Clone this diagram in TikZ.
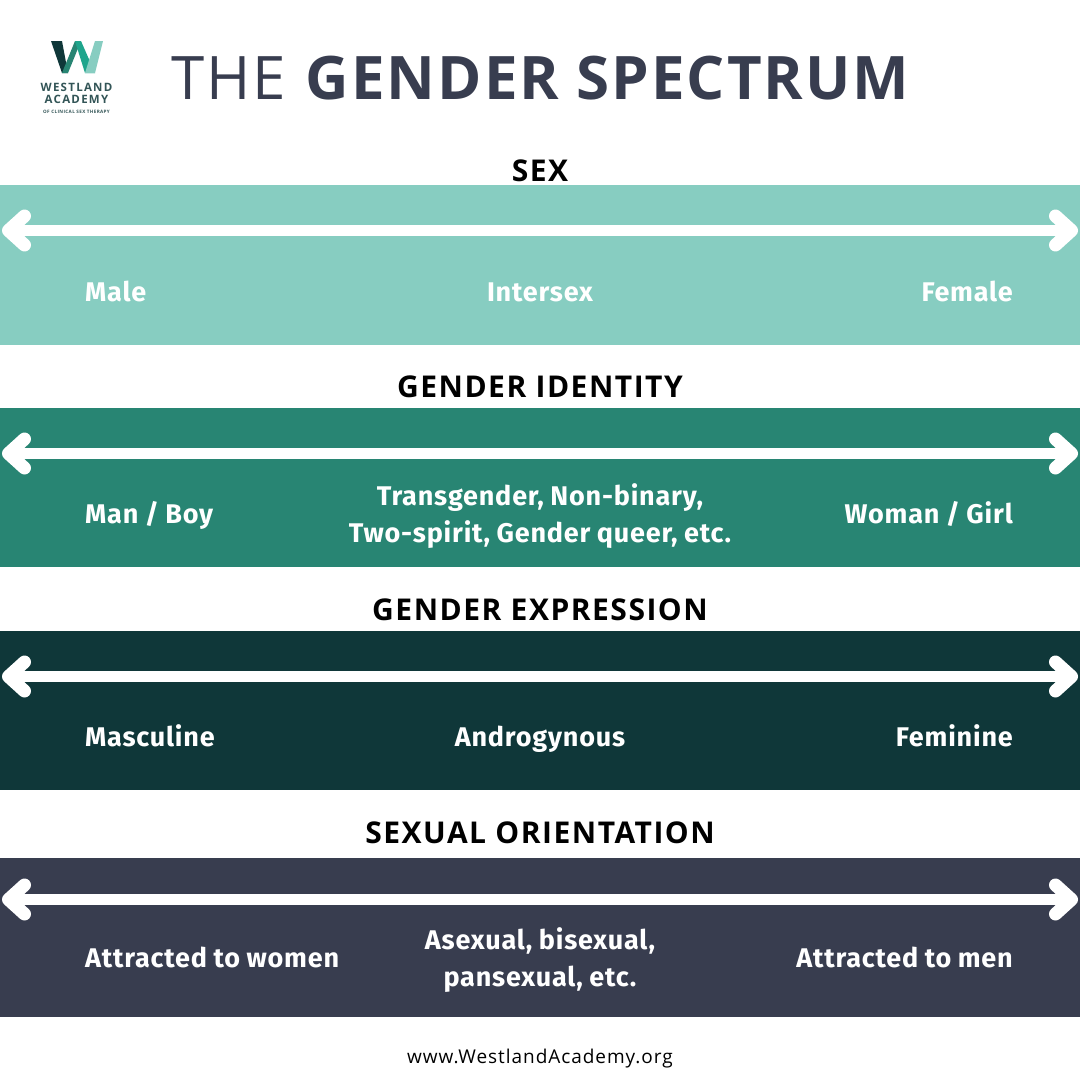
\documentclass[tikz,border=0pt]{standalone}
\usepackage{fontspec}
\setmainfont{Open Sans}
\newfontfamily\labelfont[LetterSpace=3,WordSpace=0.9]{Fira Sans}
\usetikzlibrary{arrows.meta, positioning}
\definecolor{bandA}{HTML}{87CDC1}
\definecolor{bandB}{HTML}{288573}
\definecolor{bandC}{HTML}{0F3739}
\definecolor{bandD}{HTML}{383D4F}
\definecolor{logoT}{HTML}{1FA58C}
\tikzset{
  band/.style={minimum width=1080pt,minimum height=#1,inner sep=0pt,anchor=north west},
  spectrum/.style={line width=10.5pt,white,line join=round,
    {Straight Barb[length=16pt,width=29pt,line width=13pt,round]}-{Straight Barb[length=16pt,width=29pt,line width=13pt,round]}},
  heading/.style={font=\fontsize{30}{30}\selectfont\bfseries\addfontfeature{LetterSpace=5},anchor=base,black},
  lab/.style={font=\labelfont\fontsize{27}{37}\selectfont\bfseries,white,anchor=base,align=center,inner sep=0pt},
  logotext/.style 2 args={bandC!85,inner sep=0pt,font=\fontsize{#1}{#1}\selectfont\bfseries\addfontfeature{LetterSpace=#2}},
}
\begin{document}
\begin{tikzpicture}[x=1pt,y=-1pt]
\useasboundingbox (0,0) rectangle (1080,1080);
\fill[white] (0,0) rectangle (1080,1080);
% logo
\fill[bandC] (51,41) -- (62,41) -- (68,73) -- (62,73) -- cycle;
\fill[bandB] (62,73) -- (75,41) -- (81,41) -- (68,73) -- cycle;
\fill[logoT] (75,41) -- (81,41) -- (95,73) -- (85,73) -- cycle;
\fill[bandA] (85,73) -- (95,41) -- (103,41) -- (95,73) -- cycle;
\node (logoA) at (76.5,87) [logotext={11.5}{11}] {WESTLAND};
\node (logoB) at (76.5,99) [logotext={11.5}{11}] {ACADEMY};
\node (logoC) at (76.5,112) [logotext={4.6}{8}] {OF CLINICAL SEX THERAPY};
% title
\node (title) at (541.5,99) [anchor=base,inner sep=0pt,bandD,font=\fontsize{60}{60}\selectfont\addfontfeature{LetterSpace=3.3}] {THE \textbf{GENDER SPECTRUM}};
% bands
\node (sexband) at (0,185) [band=160pt,fill=bandA] {};
\node (idband) at (0,408) [band=159pt,fill=bandB] {};
\node (exband) at (0,631) [band=159pt,fill=bandC] {};
\node (orband) at (0,858) [band=159pt,fill=bandD] {};
% headings
\node (sex) at (540,181) [heading] {SEX};
\node (id) at (540,397) [heading] {GENDER IDENTITY};
\node (ex) at (540,620) [heading] {GENDER EXPRESSION};
\node (or) at (540,843) [heading] {SEXUAL ORIENTATION};
% arrows
\foreach \n/\y in {sexa/230.5,ida/453.5,exa/676.5,ora/899.5}{
  \coordinate (\n l) at (2,\y);
  \coordinate (\n r) at (1078,\y);
  \draw[spectrum] (\n l) -- (\n r);
}
% labels
\node (male) at (85,301) [lab,anchor=base west] {Male};
\node (intersex) at (540,301) [lab] {Intersex};
\node (female) at (1013,301) [lab,anchor=base east] {Female};
\node (man) at (85,523) [lab,anchor=base west] {Man / Boy};
\node (trans) at (540,516) [lab,anchor=center] {Transgender, Non-binary,\\Two-spirit, Gender queer, etc.};
\node (woman) at (1013,523) [lab,anchor=base east] {Woman / Girl};
\node (masc) at (85,746) [lab,anchor=base west] {Masculine};
\node (andro) at (540,746) [lab] {Androgynous};
\node (fem) at (1013,746) [lab,anchor=base east] {Feminine};
\node (women) at (85,967) [lab,anchor=base west] {Attracted to women};
\node (asex) at (540,960) [lab,anchor=center] {Asexual, bisexual,\\pansexual, etc.};
\node (men) at (1013,967) [lab,anchor=base east] {Attracted to men};
% web
\node (web) at (540,1063) [anchor=base,inner sep=0pt,font=\fontsize{19}{19}\selectfont\addfontfeature{LetterSpace=5},black] {www.WestlandAcademy.org};
\end{tikzpicture}
\end{document}
